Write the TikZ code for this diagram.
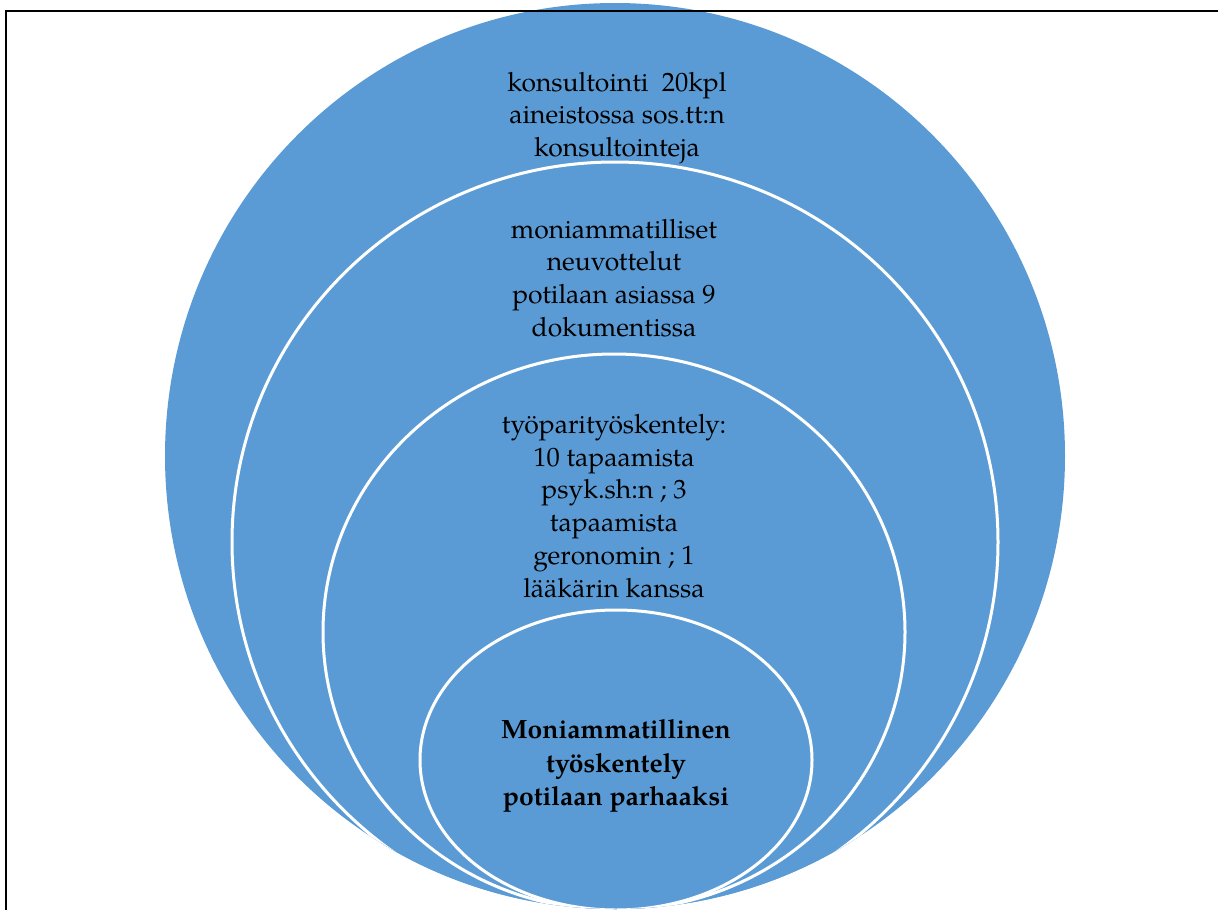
\documentclass[tikz,border=0pt]{standalone}
\usepackage{fontspec}
\setmainfont{TeX Gyre Pagella}
\definecolor{ringblue}{HTML}{5B9BD5}
\begin{document}
\begin{tikzpicture}[x=1pt,y=-1pt,
  ring/.style={draw=white, line width=3pt, fill=ringblue},
  lbl/.style={align=center, font=\fontsize{26.5}{32.8}\selectfont, text=black, inner sep=0pt}]
\useasboundingbox (0,0) rectangle (1218,910);
\fill[ringblue] (615,456) ellipse [x radius=450pt, y radius=453pt];
\begin{scope}
  \clip (615,456) ellipse [x radius=450pt, y radius=453pt];
  \draw[ring] (615,542) ellipse [x radius=383pt, y radius=380pt];
  \draw[ring] (614,632) ellipse [x radius=291pt, y radius=278pt];
  \draw[ring] (616,760) ellipse [x radius=196pt, y radius=150pt];
\end{scope}
\draw[black, line width=2pt] (6,11) rectangle (1240,940);
\node[lbl] (t1) at (617,118) {konsultointi\ \ 20kpl\\aineistossa sos.tt:n\\konsultointeja};
\node[lbl] (t2) at (614,278) {moniammatilliset\\neuvottelut\\potilaan asiassa 9\\dokumentissa};
\node[lbl] (t3) at (614,506) {työparityöskentely:\\10 tapaamista\\psyk.sh:n ; 3\\tapaamista\\geronomin ; 1\\lääkärin kanssa};
\node[lbl, font=\fontsize{26.5}{33.5}\selectfont\bfseries] (t4) at (616,766) {Moniammatillinen\\työskentely\\potilaan parhaaksi};
\end{tikzpicture}
\end{document}
